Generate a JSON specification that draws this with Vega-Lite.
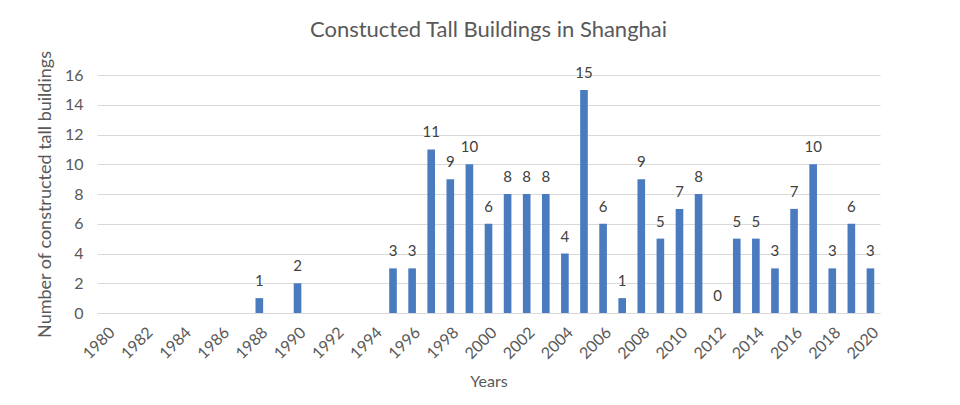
{
  "$schema": "https://vega.github.io/schema/vega-lite/v6.json",
  "width": 783,
  "height": 238,
  "autosize": {"type": "none"},
  "padding": {"left": 97, "top": 75, "right": 80, "bottom": 92},
  "background": "white",
  "title": {
    "text": "Constucted Tall Buildings in Shanghai",
    "font": "Lato",
    "fontSize": 22,
    "fontWeight": "normal",
    "color": "#595959",
    "anchor": "middle",
    "offset": 8
  },
  "config": {
    "view": {"stroke": null},
    "font": "Lato"
  },
  "data": {
    "values": [
      {"year": "1988", "count": 1},
      {"year": "1990", "count": 2},
      {"year": "1995", "count": 3},
      {"year": "1996", "count": 3},
      {"year": "1997", "count": 11},
      {"year": "1998", "count": 9},
      {"year": "1999", "count": 10},
      {"year": "2000", "count": 6},
      {"year": "2001", "count": 8},
      {"year": "2002", "count": 8},
      {"year": "2003", "count": 8},
      {"year": "2004", "count": 4},
      {"year": "2005", "count": 15},
      {"year": "2006", "count": 6},
      {"year": "2007", "count": 1},
      {"year": "2008", "count": 9},
      {"year": "2009", "count": 5},
      {"year": "2010", "count": 7},
      {"year": "2011", "count": 8},
      {"year": "2012", "count": 0},
      {"year": "2013", "count": 5},
      {"year": "2014", "count": 5},
      {"year": "2015", "count": 3},
      {"year": "2016", "count": 7},
      {"year": "2017", "count": 10},
      {"year": "2018", "count": 3},
      {"year": "2019", "count": 6},
      {"year": "2020", "count": 3}
    ]
  },
  "encoding": {
    "x": {
      "field": "year",
      "type": "ordinal",
      "scale": {
        "domain": ["1980","1981","1982","1983","1984","1985","1986","1987","1988","1989","1990","1991","1992","1993","1994","1995","1996","1997","1998","1999","2000","2001","2002","2003","2004","2005","2006","2007","2008","2009","2010","2011","2012","2013","2014","2015","2016","2017","2018","2019","2020"],
        "paddingInner": 0.6,
        "paddingOuter": 0.3
      },
      "axis": {
        "title": "Years",
        "titleFont": "Lato",
        "titleFontSize": 16,
        "titleFontWeight": "normal",
        "titleColor": "#595959",
        "titlePadding": 12,
        "values": ["1980","1982","1984","1986","1988","1990","1992","1994","1996","1998","2000","2002","2004","2006","2008","2010","2012","2014","2016","2018","2020"],
        "labelAngle": -45,
        "labelFontSize": 16,
        "labelColor": "#595959",
        "labelPadding": 11,
        "ticks": false,
        "domainColor": "#d9d9d9",
        "grid": false
      }
    },
    "y": {
      "field": "count",
      "type": "quantitative",
      "scale": {"domain": [0, 16]},
      "axis": {
        "title": "Number of constructed tall buildings",
        "titleFont": "Lato",
        "titleFontSize": 18,
        "titleFontWeight": "normal",
        "titleColor": "#595959",
        "titlePadding": 10,
        "values": [0,2,4,6,8,10,12,14,16],
        "labelFontSize": 16,
        "labelColor": "#595959",
        "labelPadding": 14,
        "ticks": false,
        "domain": false,
        "gridColor": "#d9d9d9",
        "gridWidth": 1
      }
    }
  },
  "layer": [
    {"mark": {"type": "bar", "color": "#4a7bbf"}},
    {
      "mark": {"type": "text", "dy": -17, "fontSize": 15, "color": "#404040", "font": "Lato"},
      "encoding": {"text": {"field": "count", "type": "quantitative"}}
    }
  ]
}
